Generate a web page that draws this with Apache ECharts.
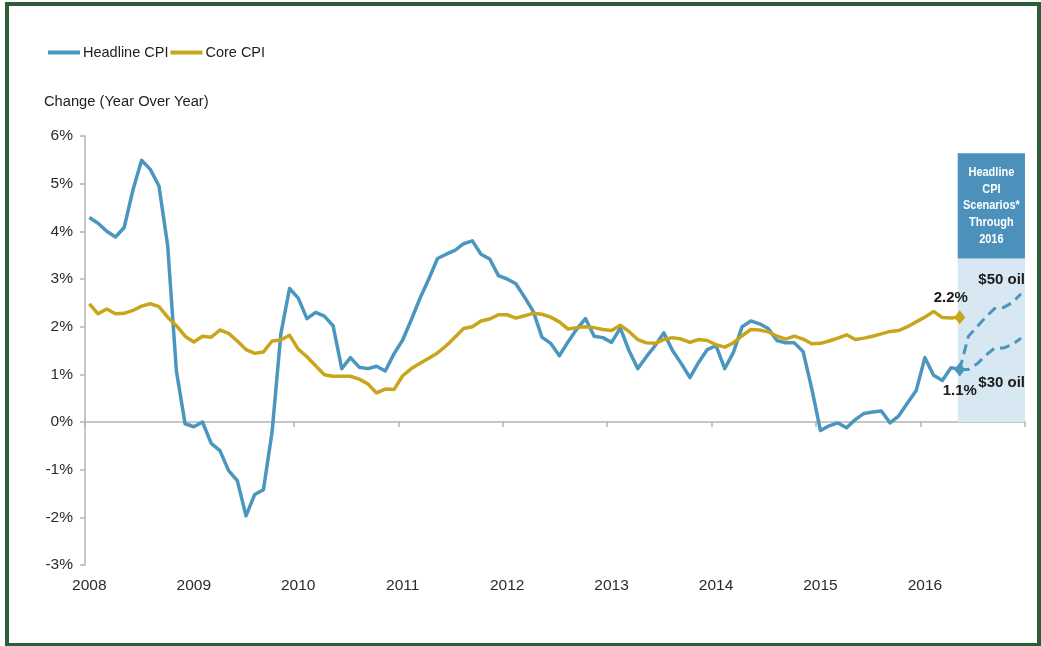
<!DOCTYPE html>
<html>
<head>
<meta charset="utf-8">
<title>Headline and Core CPI</title>
<script src="https://cdn.jsdelivr.net/npm/echarts@6/dist/echarts.min.js"></script>
<style>
  html, body { margin: 0; padding: 0; background: #ffffff; }
  #chart { position: absolute; left: 0; top: 0; width: 1041px; height: 646px; }
  #frame { position: absolute; left: 5px; top: 2px; width: 1028px; height: 637px;
           border: 4px solid #2c5d38; pointer-events: none; }
</style>
</head>
<body>
<div id="chart"></div>
<div id="frame"></div>
<script>
// Monthly categories, Jan 2008 .. Dec 2016
const years = [2008, 2009, 2010, 2011, 2012, 2013, 2014, 2015, 2016];
const months = [];
years.forEach(y => { for (let m = 1; m <= 12; m++) months.push(y + '-' + String(m).padStart(2, '0')); });

// Year-over-year change, %, Jan 2008 .. May 2016
const headlineCPI = [
  4.29, 4.17, 4.00, 3.88, 4.08, 4.86, 5.49, 5.30, 4.95, 3.70, 1.07, -0.04,
  -0.10, 0.00, -0.45, -0.60, -1.02, -1.23, -1.97, -1.52, -1.42, -0.20, 1.85, 2.80,
  2.60, 2.17, 2.30, 2.22, 2.02, 1.12, 1.35, 1.15, 1.12, 1.17, 1.07, 1.43,
  1.72, 2.15, 2.60, 3.00, 3.43, 3.52, 3.60, 3.74, 3.80, 3.52, 3.42, 3.07,
  3.00, 2.90, 2.62, 2.32, 1.78, 1.65, 1.39, 1.68, 1.95, 2.17, 1.80, 1.77,
  1.67, 1.97, 1.50, 1.12, 1.37, 1.60, 1.87, 1.50, 1.23, 0.93, 1.25, 1.52,
  1.60, 1.12, 1.46, 2.00, 2.12, 2.06, 1.96, 1.71, 1.66, 1.66, 1.48, 0.70,
  -0.18, -0.08, -0.02, -0.12, 0.05, 0.18, 0.21, 0.23, -0.02, 0.13, 0.40, 0.66,
  1.35, 0.98, 0.87, 1.14, 1.1
];
const coreCPI = [
  2.48, 2.27, 2.37, 2.27, 2.28, 2.34, 2.43, 2.48, 2.42, 2.20, 2.02, 1.80,
  1.68, 1.80, 1.78, 1.93, 1.86, 1.70, 1.52, 1.44, 1.47, 1.70, 1.72, 1.82,
  1.53, 1.37, 1.18, 0.99, 0.96, 0.96, 0.96, 0.90, 0.80, 0.61, 0.69, 0.68,
  0.97, 1.12, 1.23, 1.34, 1.45, 1.60, 1.78, 1.96, 2.00, 2.12, 2.16, 2.25,
  2.25, 2.18, 2.23, 2.28, 2.26, 2.20, 2.10, 1.95, 1.98, 2.00, 1.98, 1.94,
  1.92, 2.03, 1.90, 1.73, 1.66, 1.65, 1.73, 1.77, 1.74, 1.67, 1.73, 1.71,
  1.62, 1.57, 1.66, 1.81, 1.94, 1.93, 1.89, 1.80, 1.74, 1.80, 1.74, 1.64,
  1.65, 1.70, 1.76, 1.83, 1.73, 1.76, 1.80, 1.85, 1.90, 1.92, 2.00, 2.10,
  2.20, 2.32, 2.19, 2.18, 2.2
];
// Headline CPI scenarios, May 2016 .. Dec 2016
const scenario50 = [1.1, 1.8, 2.0, 2.2, 2.38, 2.4, 2.5, 2.68];
const scenario30 = [1.1, 1.1, 1.22, 1.4, 1.55, 1.55, 1.62, 1.75];
const yTicks = { min: -3, max: 6, step: 1 };

const FONT = "'Liberation Sans', Arial, sans-serif";
const BLUE = '#4a96bf';
const GOLD = '#c9a51b';
const AXIS_GRAY = '#b4b4b4';
const TEXT = '#2b2b2b';

const lastIdx = headlineCPI.length - 1;        // May 2016
const BOX_TOP = 5.64, BOX_SPLIT = 3.43;          // scenario panel extents, in % units

function endMarker(v, labelPos, offset) {
  return {
    value: v,
    symbol: 'diamond',
    symbolSize: [11, 14],
    label: {
      show: true, position: labelPos, offset: offset, distance: 5,
      formatter: p => p.value.toFixed(1) + '%',
      fontFamily: FONT, fontSize: 15, fontWeight: 'bold', color: '#1a1a1a'
    }
  };
}
function seriesData(arr, marker) {
  return arr.map((v, i) => i === arr.length - 1 ? marker(v) : v);
}
function scenarioData(arr, labelText, labelPos, offset) {
  const lead = new Array(lastIdx).fill('-');
  return lead.concat(arr.map((v, i) => i === arr.length - 1 ? {
    value: v,
    symbol: 'circle',
    symbolSize: 2,
    label: {
      show: true, position: labelPos, offset: offset,
      formatter: labelText,
      fontFamily: FONT, fontSize: 15, fontWeight: 'bold', color: '#1a1a1a'
    }
  } : v));
}

const chart = echarts.init(document.getElementById('chart'), null, { renderer: 'canvas' });

chart.setOption({
  animation: false,
  backgroundColor: '#ffffff',
  textStyle: { fontFamily: FONT },
  title: {
    text: 'Change (Year Over Year)',
    left: 39, top: 89,
    textStyle: { fontFamily: FONT, fontSize: 14.7, fontWeight: 'normal', color: '#222' }
  },
  legend: {
    data: ['Headline CPI', 'Core CPI'],
    left: 43, top: 40,
    icon: 'rect', itemWidth: 32, itemHeight: 4, itemGap: 2,
    textStyle: { fontFamily: FONT, fontSize: 14.5, color: '#222', padding: [0, 0, 0, -2] }
  },
  grid: { left: 85, right: 16, top: 136, bottom: 81, containLabel: false },
  xAxis: [
    {
      type: 'category', data: months, boundaryGap: true, position: 'bottom',
      axisLine: { show: false, onZero: false },
      axisTick: { show: false },
      axisLabel: {
        interval: i => i % 12 === 0,
        formatter: v => v.slice(0, 4),
        margin: 13, fontFamily: FONT, fontSize: 15.5, color: TEXT
      },
      splitLine: { show: false }
    },
    {
      type: 'category', data: months, boundaryGap: true, position: 'bottom',
      axisLine: { show: true, onZero: true, lineStyle: { color: AXIS_GRAY, width: 1.5 } },
      axisTick: { show: true, interval: i => i % 12 === 0, length: 5, lineStyle: { color: AXIS_GRAY, width: 1.5 } },
      axisLabel: { show: false },
      splitLine: { show: false }
    }
  ],
  yAxis: {
    type: 'value', min: yTicks.min, max: yTicks.max, interval: yTicks.step,
    axisLine: { show: true, lineStyle: { color: AXIS_GRAY, width: 1.5 } },
    axisTick: { show: true, length: 5, lineStyle: { color: AXIS_GRAY, width: 1.5 } },
    axisLabel: { formatter: '{value}%', margin: 12, fontFamily: FONT, fontSize: 15.5, color: TEXT },
    splitLine: { show: false }
  },
  series: [
    {
      type: 'custom',
      name: 'Scenario panel',
      silent: true,
      z: 1,
      clip: false,
      data: [[lastIdx, 0]],
      renderItem: (params, api) => {
        const band = api.size([1, 0])[0];
        const x0 = api.coord([lastIdx, 0])[0] - 2;
        const x1 = api.coord([months.length - 1, 0])[0] + band / 2;
        const yTop = api.coord([lastIdx, BOX_TOP])[1];
        const yMid = api.coord([lastIdx, BOX_SPLIT])[1];
        const yBot = api.coord([lastIdx, 0])[1];
        return {
          type: 'group',
          children: [
            { type: 'rect', shape: { x: x0, y: yMid, width: x1 - x0, height: yBot - yMid }, style: { fill: '#d8e8f2' } },
            { type: 'rect', shape: { x: x0, y: yTop, width: x1 - x0, height: yMid - yTop }, style: { fill: '#4b91bb' } },
            {
              type: 'text', x: (x0 + x1) / 2, y: (yTop + yMid) / 2, scaleY: 1.2,
              style: {
                text: 'Headline\nCPI\nScenarios*\nThrough\n2016',
                fill: '#ffffff', fontFamily: FONT, fontSize: 11, fontWeight: 'bold',
                align: 'center', verticalAlign: 'middle', lineHeight: 14
              }
            }
          ]
        };
      }
    },
    {
      name: 'Headline CPI', type: 'line', z: 3,
      data: seriesData(headlineCPI, v => endMarker(v, 'bottom', [0, 2])),
      symbol: 'none', showSymbol: true, showAllSymbol: true,
      color: BLUE, itemStyle: { color: BLUE },
      lineStyle: { color: BLUE, width: 3.5, join: 'round' }
    },
    {
      name: 'Core CPI', type: 'line', z: 3,
      data: seriesData(coreCPI, v => endMarker(v, 'top', [-9, 0])),
      symbol: 'none', showSymbol: true, showAllSymbol: true,
      color: GOLD, itemStyle: { color: GOLD },
      lineStyle: { color: GOLD, width: 3.5, join: 'round' }
    },
    {
      name: '$50 oil', type: 'line', z: 2,
      data: scenarioData(scenario50, '$50 oil', 'top', [-19, -1]),
      symbol: 'none', showSymbol: true, showAllSymbol: true,
      color: BLUE, itemStyle: { color: BLUE },
      lineStyle: { color: BLUE, width: 3, type: [10, 6] }
    },
    {
      name: '$30 oil', type: 'line', z: 2,
      data: scenarioData(scenario30, '$30 oil', 'bottom', [-19, 31]),
      symbol: 'none', showSymbol: true, showAllSymbol: true,
      color: BLUE, itemStyle: { color: BLUE },
      lineStyle: { color: BLUE, width: 3, type: [10, 6] }
    }
  ]
});
</script>
</body>
</html>
